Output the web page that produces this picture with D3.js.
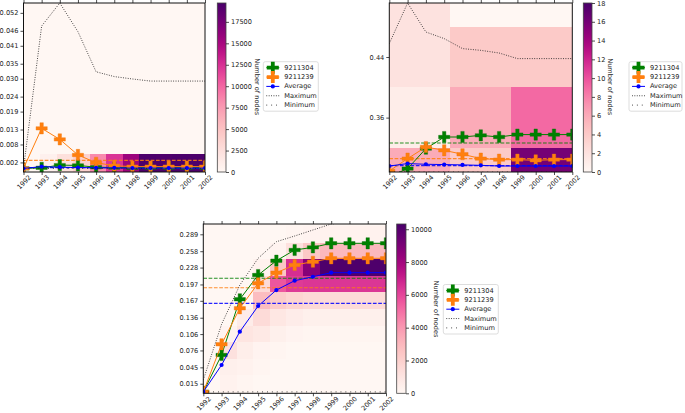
<!DOCTYPE html>
<html><head><meta charset="utf-8">
<script src="https://cdn.jsdelivr.net/npm/d3@7"></script>
<style>body{margin:0;background:#fff;} svg{display:block;font-family:"DejaVu Sans",sans-serif;}</style>
</head><body><svg id="c" width="685" height="413"></svg>
<script>
// ---------------- DATA ----------------
const years = [1992,1993,1994,1995,1996,1997,1998,1999,2000,2001,2002];
const seriesNames = ["9211304","9211239","Average","Maximum","Minimum"];

// Panel A (top-left)
const aYTicks = [0.002,0.008,0.013,0.019,0.024,0.030,0.035,0.041,0.046,0.052];
const aNodeG = [0,0.0002,0.0011,0.0010,0.0004,0.0003,0.0002,0.0002,0.0002,0.0002,0.0002];
const aNodeO = [0,0.0134,0.0097,0.0045,0.0019,0.0009,0.0006,0.0006,0.0006,0.0006,0.0006];
const aAvg   = [0,0.0006,0.0004,0.0003,0.0002,0.0002,0.0001,0.0001,0.0001,0.0001,0.0001];
const aMax   = [0,0.0476,0.0553,0.0457,0.0323,0.0307,0.0299,0.0292,0.0292,0.0292,0.0292];
const aMin   = [0,0,0,0,0,0,0,0,0,0,0];
const aMeans = [0.0003,0.0027,0.0002];
const aRowEdges = [-0.0012,0.0048];
const aCounts = [[0,700,2400,3800,8300,12300,15600,19500,19400,19600,19500]];
const aCbarTicks = [0,2500,5000,7500,10000,12500,15000,17500];

// Panel B (top-right)
const bYTicks = [0.36,0.44];
const bNodeG = [0.282,0.2927,0.319,0.3344,0.3344,0.3366,0.3344,0.3376,0.3376,0.3376,0.3376];
const bNodeO = [0.2895,0.3059,0.3212,0.3168,0.3116,0.3059,0.3045,0.3045,0.3036,0.3045,0.3045];
const bAvg   = [0.2961,0.2993,0.2984,0.298,0.2976,0.297,0.2961,0.2961,0.2961,0.2961,0.2961];
const bMax   = [0.4577,0.5113,0.473,0.4643,0.4511,0.4488,0.4453,0.4379,0.4379,0.4379,0.4379];
const bMin   = [0.2882,0.2882,0.2882,0.2882,0.2882,0.2882,0.2882,0.2882,0.2882,0.2882,0.2882];
const bMeans = [0.3265,0.3059,0.2966];
const bRowEdges = [0.24,0.32,0.40,0.48,0.56];
const bCounts = [[6,4,16],[1,6,9],[2,4,4],[2,0,0]];
const bCbarTicks = [0,2,4,6,8,10,12,14,16,18];

// Panel C (bottom)
const cYTicks = [0.015,0.045,0.076,0.106,0.136,0.167,0.197,0.228,0.258,0.289];
const cNodeG = [0,0.0676,0.1698,0.2143,0.2406,0.2602,0.2651,0.2725,0.2725,0.2725,0.2725];
const cNodeO = [0,0.0873,0.1533,0.1991,0.2186,0.2327,0.2387,0.245,0.245,0.245,0.245];
const cAvg   = [0,0.0493,0.1104,0.1575,0.1868,0.2039,0.2112,0.2186,0.2186,0.2186,0.2186];
const cMax   = [0.022,0.124,0.196,0.245,0.2754,0.2859,0.2969,0.3079,0.312,0.315,0.317];
const cMin   = [0,0,0,0,0,0,0,0,0,0,0];
const cMeans = [0.2083,0.191,0.1624];
const cRowEdges = [-0.0026,0.0304,0.0608,0.0912,0.1216,0.1520,0.1825,0.2129,0.2433,0.2737,0.3041];
const cCounts = [
  [0,300,100,0,0,0,0,0,0,0,0],
  [0,400,300,100,0,0,0,0,0,0,0],
  [0,1200,500,200,100,0,0,0,0,0,0],
  [0,200,1000,800,400,200,100,100,100,100,100],
  [0,0,600,1500,900,600,400,400,400,400,400],
  [0,0,100,2800,2200,1800,1600,1500,1500,1500,1500],
  [0,0,0,1500,5600,6300,6400,6400,6400,6400,6400],
  [0,0,0,300,2500,6600,8700,10200,10200,10200,10200],
  [0,0,0,0,200,1200,2400,3000,3000,3000,3000],
  [0,0,0,0,0,100,200,300,300,300,300]
];
const cCbarTicks = [0,2000,4000,6000,8000,10000];

// ---------------- DRAW ----------------
const svg = d3.select("#c");
const defs = svg.append("defs");
const FS = 6.6;
const GREEN = "#008000", ORANGE = "#ff7f0e", BLUE = "#0000ff";

function plusPath(L, w) {
  return `M${-w},${-L}H${w}V${-w}H${L}V${w}H${w}V${L}H${-w}V${w}H${-L}V${-w}H${-w}Z`;
}

function panel(cfg) {
  const {x0, x1, y0, y1} = cfg.box;
  const x = d3.scaleLinear().domain([years[0], years[years.length - 1]]).range([x0, x1]);
  const y = d3.scaleLinear().domain(cfg.yDomain).range([y1, y0]);
  const color = d3.scaleSequential(d3.interpolateRdPu).domain(cfg.cDomain);
  const clipId = "clip" + cfg.id;
  defs.append("clipPath").attr("id", clipId).append("rect")
    .attr("x", x0).attr("y", y0).attr("width", x1 - x0).attr("height", y1 - y0);
  const g = svg.append("g");
  const plot = g.append("g").attr("clip-path", `url(#${clipId})`);
  plot.append("rect").attr("x", x0).attr("y", y0).attr("width", x1 - x0).attr("height", y1 - y0)
    .attr("fill", color(0));

  // heatmap cells
  const nCols = cfg.counts[0].length;
  const span = years[years.length - 1] - years[0];
  const colEdge = i => years[0] + i * span / nCols;
  const cells = [];
  cfg.counts.forEach((row, r) => row.forEach((v, ci) => cells.push({r, ci, v})));
  plot.append("g").attr("shape-rendering", "crispEdges").selectAll("rect").data(cells).join("rect")
    .attr("x", d => x(colEdge(d.ci)))
    .attr("width", d => x(colEdge(d.ci + 1)) - x(colEdge(d.ci)))
    .attr("y", d => y(cfg.rowEdges[d.r + 1]))
    .attr("height", d => y(cfg.rowEdges[d.r]) - y(cfg.rowEdges[d.r + 1]))
    .attr("fill", d => color(d.v));

  // mean dashed lines
  const meanColors = [GREEN, ORANGE, BLUE];
  plot.append("g").selectAll("line").data(cfg.means).join("line")
    .attr("x1", x0).attr("x2", x1)
    .attr("y1", d => y(d)).attr("y2", d => y(d))
    .attr("stroke", (d, i) => meanColors[i]).attr("stroke-width", 1.1)
    .attr("stroke-dasharray", "3.7,1.6").attr("opacity", 0.85);

  const line = d3.line().x((d, i) => x(years[i])).y(d => y(d));
  // green
  plot.append("path").attr("d", line(cfg.g)).attr("fill", "none").attr("stroke", GREEN).attr("stroke-width", 1);
  plot.append("g").selectAll("path").data(cfg.g).join("path")
    .attr("d", plusPath(5.6, 1.7)).attr("transform", (d, i) => `translate(${x(years[i])},${y(d)})`)
    .attr("fill", GREEN).attr("stroke", "#0a6e0a").attr("stroke-width", 0.4);
  // orange
  plot.append("path").attr("d", line(cfg.o)).attr("fill", "none").attr("stroke", ORANGE).attr("stroke-width", 1);
  plot.append("g").selectAll("path").data(cfg.o).join("path")
    .attr("d", plusPath(5.6, 1.7)).attr("transform", (d, i) => `translate(${x(years[i])},${y(d)})`)
    .attr("fill", ORANGE).attr("stroke", "#f07a10").attr("stroke-width", 0.4);
  // average
  plot.append("path").attr("d", line(cfg.avg)).attr("fill", "none").attr("stroke", BLUE).attr("stroke-width", 1);
  plot.append("g").selectAll("circle").data(cfg.avg).join("circle")
    .attr("cx", (d, i) => x(years[i])).attr("cy", d => y(d)).attr("r", 2.1).attr("fill", BLUE);
  // max / min
  plot.append("path").attr("d", line(cfg.max)).attr("fill", "none").attr("stroke", "#222")
    .attr("stroke-width", 0.9).attr("stroke-dasharray", "0.9,1.5");
  plot.append("path").attr("d", line(cfg.min)).attr("fill", "none").attr("stroke", "#222")
    .attr("stroke-width", 0.9).attr("stroke-dasharray", "0.9,4");

  // axes
  const yAxis = d3.axisLeft(y).tickValues(cfg.yTicks).tickFormat(d3.format(cfg.yFmt)).tickSize(3).tickPadding(2);
  const ya = g.append("g").attr("transform", `translate(${x0},0)`).call(yAxis);
  const xAxis = d3.axisBottom(x).tickValues(years).tickFormat(d3.format("d")).tickSize(3);
  const xa = g.append("g").attr("transform", `translate(0,${y1})`).call(xAxis);
  xa.selectAll("text").attr("y", 0).attr("dy", "0.35em").attr("text-anchor", "middle")
    .attr("transform", "translate(0,10.2) rotate(-45)");
  const xt = d3.axisTop(x).tickValues(years).tickFormat("").tickSize(3);
  const xta = g.append("g").attr("transform", `translate(0,${y0})`).call(xt);
  [ya, xa, xta].forEach(a => {
    a.select(".domain").remove();
    a.attr("font-size", FS).attr("font-family", "DejaVu Sans");
    a.selectAll("line").attr("stroke", "#222").attr("stroke-width", 0.8);
    a.selectAll("text").attr("fill", "#222");
  });
  g.append("rect").attr("x", x0).attr("y", y0).attr("width", x1 - x0).attr("height", y1 - y0)
    .attr("fill", "none").attr("stroke", "#111").attr("stroke-width", 1);

  // colorbar
  const cb = cfg.cbar;
  const gid = "grad" + cfg.id;
  const grad = defs.append("linearGradient").attr("id", gid)
    .attr("x1", 0).attr("y1", 1).attr("x2", 0).attr("y2", 0);
  d3.range(0, 1.0001, 0.05).forEach(t => grad.append("stop").attr("offset", t).attr("stop-color", d3.interpolateRdPu(t)));
  g.append("rect").attr("x", cb.x).attr("y", y0).attr("width", cb.w).attr("height", y1 - y0)
    .attr("fill", `url(#${gid})`).attr("stroke", "#444").attr("stroke-width", 0.8);
  const cy = d3.scaleLinear().domain(cfg.cDomain).range([y1, y0]);
  const ca = g.append("g").attr("transform", `translate(${cb.x + cb.w},0)`)
    .call(d3.axisRight(cy).tickValues(cfg.cTicks).tickFormat(d3.format("d")).tickSize(3).tickPadding(2));
  ca.select(".domain").remove();
  ca.attr("font-size", FS).attr("font-family", "DejaVu Sans");
  ca.selectAll("line").attr("stroke", "#222").attr("stroke-width", 0.8);
  ca.selectAll("text").attr("fill", "#222");
  g.append("text").attr("transform", `translate(${cb.lx},${cb.ly}) rotate(90)`)
    .attr("text-anchor", "middle").attr("dominant-baseline", "central")
    .attr("font-size", FS).attr("fill", "#222").text("Number of nodes");

  // legend
  const L = cfg.legend;
  const lg = g.append("g").attr("transform", `translate(${L.x},${L.y})`);
  lg.append("rect").attr("x", 0).attr("y", 0).attr("width", L.w).attr("height", 49.5).attr("rx", 2)
    .attr("fill", "#fff").attr("fill-opacity", 0.85).attr("stroke", "#d4d4d4").attr("stroke-width", 0.8);
  const rowY = i => 6 + i * 9.35;
  const mx = 9.5;
  seriesNames.forEach((name, i) => {
    const yy = rowY(i);
    const seg = lg.append("line").attr("x1", mx - 6.5).attr("x2", mx + 6.5).attr("y1", yy).attr("y2", yy)
      .attr("stroke-width", i >= 3 ? 0.9 : 1);
    if (i === 0) { seg.attr("stroke", GREEN); lg.append("path").attr("d", plusPath(6, 1.9)).attr("transform", `translate(${mx},${yy})`).attr("fill", GREEN); }
    if (i === 1) { seg.attr("stroke", ORANGE); lg.append("path").attr("d", plusPath(6, 1.9)).attr("transform", `translate(${mx},${yy})`).attr("fill", ORANGE); }
    if (i === 2) { seg.attr("stroke", BLUE); lg.append("circle").attr("cx", mx).attr("cy", yy).attr("r", 2.1).attr("fill", BLUE); }
    if (i === 3) seg.attr("stroke", "#222").attr("stroke-dasharray", "0.9,1.5");
    if (i === 4) seg.attr("stroke", "#222").attr("stroke-dasharray", "0.9,4");
    lg.append("text").attr("x", 21).attr("y", yy).attr("dominant-baseline", "central")
      .attr("font-size", FS).attr("fill", "#222").text(name);
  });
}

panel({id: "A", box: {x0: 23.5, x1: 205, y0: 3, y1: 172}, yDomain: [-0.0012, 0.0553], yTicks: aYTicks, yFmt: ".3f",
  g: aNodeG, o: aNodeO, avg: aAvg, max: aMax, min: aMin, means: aMeans,
  rowEdges: aRowEdges, counts: aCounts, cDomain: [0, 19700], cTicks: aCbarTicks,
  cbar: {x: 217.3, w: 8.7, lx: 256.7, ly: 86.7}, legend: {x: 263.3, y: 61.7, w: 55}});

panel({id: "B", box: {x0: 389.3, x1: 572.3, y0: 3, y1: 172}, yDomain: [0.2882, 0.5113], yTicks: bYTicks, yFmt: ".2f",
  g: bNodeG, o: bNodeO, avg: bAvg, max: bMax, min: bMin, means: bMeans,
  rowEdges: bRowEdges, counts: bCounts, cDomain: [0, 18], cTicks: bCbarTicks,
  cbar: {x: 583.3, w: 8.7, lx: 610, ly: 86.7}, legend: {x: 629, y: 61.7, w: 53}});

panel({id: "C", box: {x0: 203.3, x1: 386, y0: 224, y1: 393.3}, yDomain: [-0.0026, 0.3079], yTicks: cYTicks, yFmt: ".3f",
  g: cNodeG, o: cNodeO, avg: cAvg, max: cMax, min: cMin, means: cMeans,
  rowEdges: cRowEdges, counts: cCounts, cDomain: [0, 10320], cTicks: cCbarTicks,
  cbar: {x: 396.7, w: 9.3, lx: 436, ly: 309}, legend: {x: 443.3, y: 284.5, w: 55}});
</script>
</body></html>
